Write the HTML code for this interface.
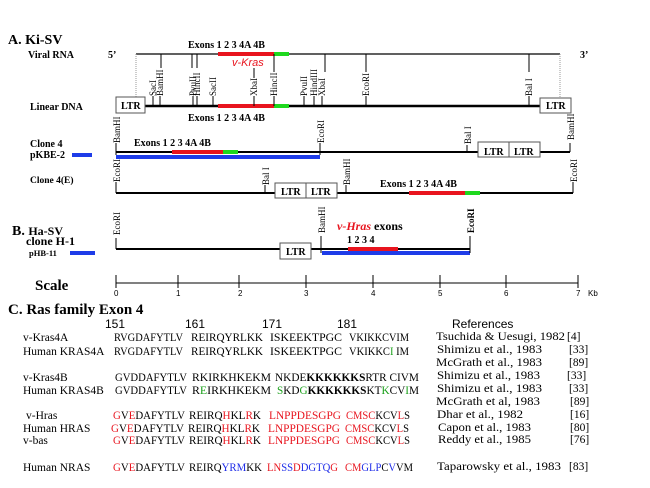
<!DOCTYPE html>
<html><head><meta charset="utf-8"><style>
html,body{margin:0;padding:0;background:#fff;}
svg{display:block;}
.b{font-family:"Liberation Serif",serif;font-weight:bold;}
.s{font-family:"Liberation Serif",serif;font-size:9px;}
.q{font-family:"Liberation Serif",serif;font-size:11.5px;}
.r{font-family:"Liberation Sans",sans-serif;font-size:12px;}
</style></head><body>
<svg width="650" height="488" viewBox="0 0 650 488" xmlns="http://www.w3.org/2000/svg">
<g class="b" font-size="10">
<text x="8" y="44" font-size="14">A. Ki-SV</text>
<text x="28" y="58">Viral RNA</text>
<text x="108" y="58">5’</text>
<text x="580" y="58">3’</text>
<text x="188" y="48">Exons 1  2  3  4A 4B</text>
<text x="30" y="110">Linear DNA</text>
<text x="188" y="121">Exons  1  2  3  4A 4B</text>
<text x="30" y="147">Clone 4</text>
<text x="30" y="158">pKBE-2</text>
<text x="134" y="146">Exons   1   2   3  4A 4B</text>
<text x="30" y="183" font-size="9.5">Clone 4(E)</text>
<text x="380" y="187">Exons 1  2  3  4A  4B</text>
<text x="12" y="235" font-size="14">B. <tspan font-size="12">Ha-SV</tspan></text>
<text x="26" y="245" font-size="12">clone H-1</text>
<text x="29" y="256" font-size="8.5">pHB-11</text>
<text x="337" y="230" font-size="12"><tspan fill="#e8141e" font-style="italic">v-Hras</tspan> exons</text>
<text x="347" y="243">1  2  3  4</text>
<text x="35" y="290" font-size="15">Scale</text>
<text x="8" y="314" font-size="15">C. Ras family Exon 4</text>
</g>
<text x="232" y="66" font-family="Liberation Sans,sans-serif" font-size="11" font-style="italic" fill="#e8141e">v-Kras</text>

<!-- Viral RNA -->
<line x1="136" y1="54" x2="560" y2="54" stroke="#000" stroke-width="1.2"/>
<line x1="218" y1="54" x2="274" y2="54" stroke="#e8141e" stroke-width="4"/>
<line x1="274" y1="54" x2="289" y2="54" stroke="#1ed81e" stroke-width="4"/>
<g stroke="#000" stroke-width="1">
<line x1="161" y1="54" x2="161" y2="68"/><line x1="192" y1="54" x2="192" y2="68"/><line x1="197" y1="54" x2="197" y2="68"/>
<line x1="274" y1="54" x2="274" y2="72"/><line x1="325" y1="54" x2="325" y2="72"/><line x1="366" y1="54" x2="366" y2="72"/><line x1="529" y1="54" x2="529" y2="72"/>
<line x1="254" y1="68" x2="254" y2="78"/>
</g>
<line x1="136" y1="54" x2="136" y2="97" stroke="#999" stroke-dasharray="1,1"/>
<line x1="560" y1="54" x2="560" y2="97" stroke="#999" stroke-dasharray="1,1"/>

<!-- Linear DNA -->
<line x1="145" y1="106" x2="540" y2="106" stroke="#000" stroke-width="2.5"/>
<line x1="218" y1="106" x2="274" y2="106" stroke="#e8141e" stroke-width="4"/>
<line x1="274" y1="106" x2="289" y2="106" stroke="#1ed81e" stroke-width="4"/>
<rect x="116" y="97" width="29" height="16" fill="#fff" stroke="#555"/>
<text x="121" y="109" class="b" font-size="10">LTR</text>
<rect x="540" y="98" width="31" height="15" fill="#fff" stroke="#555"/>
<text x="546" y="109" class="b" font-size="10">LTR</text>
<g stroke="#000" stroke-width="1">
<line x1="153" y1="96" x2="153" y2="106"/><line x1="160" y1="96" x2="160" y2="106"/><line x1="193" y1="96" x2="193" y2="106"/><line x1="197" y1="96" x2="197" y2="106"/><line x1="213" y1="96" x2="213" y2="106"/><line x1="254" y1="96" x2="254" y2="106"/><line x1="274" y1="96" x2="274" y2="106"/><line x1="304" y1="96" x2="304" y2="106"/><line x1="314" y1="96" x2="314" y2="106"/><line x1="322" y1="96" x2="322" y2="106"/><line x1="366" y1="96" x2="366" y2="106"/><line x1="529" y1="96" x2="529" y2="106"/>
</g>
<g class="s">
<text transform="translate(156,96) rotate(-90)">SacI</text>
<text transform="translate(163,96) rotate(-90)">BamHI</text>
<text transform="translate(196,96) rotate(-90)">PvuII</text>
<text transform="translate(200,96) rotate(-90)">HincII</text>
<text transform="translate(216,96) rotate(-90)">SacII</text>
<text transform="translate(257,96) rotate(-90)">XbaI</text>
<text transform="translate(277,96) rotate(-90)">HincII</text>
<text transform="translate(307,96) rotate(-90)">PvuII</text>
<text transform="translate(317,96) rotate(-90)">HindIII</text>
<text transform="translate(325,96) rotate(-90)">XbaI</text>
<text transform="translate(369,96) rotate(-90)">EcoRI</text>
<text transform="translate(532,96) rotate(-90)">Bal I</text>
</g>

<!-- Clone 4 -->
<line x1="116" y1="152" x2="478" y2="152" stroke="#000" stroke-width="2"/>
<line x1="540" y1="152" x2="570" y2="152" stroke="#000" stroke-width="2"/>
<line x1="172" y1="152" x2="223" y2="152" stroke="#e8141e" stroke-width="4"/>
<line x1="223" y1="152" x2="238" y2="152" stroke="#1ed81e" stroke-width="4"/>
<line x1="116" y1="157" x2="320" y2="157" stroke="#1e3ce8" stroke-width="4"/>
<line x1="72" y1="155" x2="92" y2="155" stroke="#1e3ce8" stroke-width="4"/>
<rect x="478" y="142" width="31" height="15" fill="#fff" stroke="#555"/>
<rect x="509" y="142" width="31" height="15" fill="#fff" stroke="#555"/>
<text x="484" y="155" class="b" font-size="10">LTR</text><text x="514" y="155" class="b" font-size="10">LTR</text>
<g stroke="#000"><line x1="116" y1="143" x2="116" y2="155"/><line x1="320" y1="143" x2="320" y2="155"/><line x1="467" y1="145" x2="467" y2="152"/><line x1="570" y1="143" x2="570" y2="152"/></g>
<g class="s">
<text transform="translate(120,143) rotate(-90)">BamHI</text>
<text transform="translate(324,143) rotate(-90)">EcoRI</text>
<text transform="translate(471,144) rotate(-90)">Bal I</text>
<text transform="translate(574,140) rotate(-90)">BamHI</text>
</g>

<!-- Clone 4(E) -->
<line x1="116" y1="193" x2="275" y2="193" stroke="#000" stroke-width="2"/>
<line x1="337" y1="193" x2="573" y2="193" stroke="#000" stroke-width="2"/>
<line x1="409" y1="193" x2="465" y2="193" stroke="#e8141e" stroke-width="4"/>
<line x1="465" y1="193" x2="480" y2="193" stroke="#1ed81e" stroke-width="4"/>
<rect x="275" y="183" width="31" height="15" fill="#fff" stroke="#555"/>
<rect x="306" y="183" width="31" height="15" fill="#fff" stroke="#555"/>
<text x="281" y="195" class="b" font-size="10">LTR</text><text x="311" y="195" class="b" font-size="10">LTR</text>
<g stroke="#000"><line x1="116" y1="182" x2="116" y2="193"/><line x1="265" y1="185" x2="265" y2="193"/><line x1="346" y1="185" x2="346" y2="193"/><line x1="573" y1="182" x2="573" y2="193"/></g>
<g class="s">
<text transform="translate(120,182) rotate(-90)">EcoRI</text>
<text transform="translate(269,185) rotate(-90)">Bal I</text>
<text transform="translate(350,185) rotate(-90)">BamHI</text>
<text transform="translate(577,182) rotate(-90)">EcoRI</text>
</g>

<!-- B -->
<line x1="116" y1="249" x2="280" y2="249" stroke="#000" stroke-width="2"/>
<line x1="311" y1="249" x2="470" y2="249" stroke="#000" stroke-width="2"/>
<line x1="348" y1="249" x2="398" y2="249" stroke="#e8141e" stroke-width="4"/>
<line x1="322" y1="253" x2="470" y2="253" stroke="#1e3ce8" stroke-width="4"/>
<line x1="70" y1="253" x2="95" y2="253" stroke="#1e3ce8" stroke-width="4"/>
<rect x="280" y="243" width="31" height="16" fill="#fff" stroke="#555"/>
<text x="286" y="255" class="b" font-size="10">LTR</text>
<g stroke="#000"><line x1="116" y1="238" x2="116" y2="249"/><line x1="321" y1="236" x2="321" y2="253"/><line x1="470" y1="236" x2="470" y2="253"/></g>
<g class="s">
<text transform="translate(120,235) rotate(-90)">EcoRI</text>
<text transform="translate(325,233) rotate(-90)">BamHI</text>
<text transform="translate(474,233) rotate(-90)" font-weight="bold">EcoRI</text>
</g>

<!-- Scale -->
<g stroke="#000" stroke-width="1">
<line x1="116" y1="283" x2="578" y2="283"/>
<line x1="116" y1="275" x2="116" y2="288"/><line x1="178" y1="275" x2="178" y2="288"/><line x1="239" y1="275" x2="239" y2="288"/><line x1="306" y1="275" x2="306" y2="288"/><line x1="373" y1="275" x2="373" y2="288"/><line x1="440" y1="275" x2="440" y2="288"/><line x1="506" y1="275" x2="506" y2="288"/><line x1="578" y1="275" x2="578" y2="288"/>
</g>
<g font-family="Liberation Sans,sans-serif" font-size="8">
<text x="114" y="296">0</text><text x="176" y="296">1</text><text x="238" y="296">2</text><text x="304" y="296">3</text><text x="371" y="296">4</text><text x="438" y="296">5</text><text x="504" y="296">6</text><text x="576" y="296">7</text><text x="588" y="296">Kb</text>
</g>

<!-- C -->
<g class="r">
<text x="105" y="328">151</text><text x="185" y="328">161</text><text x="262" y="328">171</text><text x="337" y="328">181</text>
<text x="452" y="328">References</text>
</g>
<g class="q" lengthAdjust="spacingAndGlyphs">
<text x="23" y="341">v-Kras4A</text>
<text x="23" y="355">Human KRAS4A</text>
<text x="23" y="381">v-Kras4B</text>
<text x="23" y="394">Human KRAS4B</text>
<text x="26" y="419">v-Hras</text>
<text x="23" y="432">Human HRAS</text>
<text x="23" y="444">v-bas</text>
<text x="23" y="471">Human NRAS</text>

<text x="114" y="341" textLength="69" lengthAdjust="spacingAndGlyphs">RVGDAFYTLV</text><text x="191" y="341" textLength="72" lengthAdjust="spacingAndGlyphs">REIRQYRLKK</text><text x="270" y="341" textLength="72" lengthAdjust="spacingAndGlyphs">ISKEEKTPGC</text><text x="349" y="341" textLength="60" lengthAdjust="spacingAndGlyphs">VKIKKCVIM</text>
<text x="114" y="355" textLength="69" lengthAdjust="spacingAndGlyphs">RVGDAFYTLV</text><text x="191" y="355" textLength="72" lengthAdjust="spacingAndGlyphs">REIRQYRLKK</text><text x="270" y="355" textLength="72" lengthAdjust="spacingAndGlyphs">ISKEEKTPGC</text><text x="349" y="355" textLength="60" lengthAdjust="spacingAndGlyphs">VKIKKC<tspan fill="#1aa01a">I</tspan> IM</text>

<text x="115" y="381" textLength="72" lengthAdjust="spacingAndGlyphs">GVDDAFYTLV</text><text x="192" y="381" textLength="79" lengthAdjust="spacingAndGlyphs">RKIRKHKEKM</text><text x="275" y="381" textLength="144" lengthAdjust="spacingAndGlyphs">NKDE<tspan font-weight="bold">KKKKKKS</tspan>RTR CIVM</text>
<text x="115" y="394" textLength="72" lengthAdjust="spacingAndGlyphs">GVDDAFYTLV</text><text x="192" y="394" textLength="79" lengthAdjust="spacingAndGlyphs">R<tspan fill="#1aa01a">E</tspan>IRKHKEKM</text><text x="277" y="394" textLength="142" lengthAdjust="spacingAndGlyphs"><tspan fill="#1aa01a">S</tspan>KD<tspan fill="#1aa01a">G</tspan><tspan font-weight="bold">KKKKKKS</tspan>KT<tspan fill="#1aa01a">K</tspan>CV<tspan fill="#1aa01a">I</tspan>M</text>

<text x="113" y="419" textLength="72" lengthAdjust="spacingAndGlyphs"><tspan fill="#e8141e">G</tspan>V<tspan fill="#e8141e">E</tspan>DAFYTLV</text><text x="189" y="419" textLength="72" lengthAdjust="spacingAndGlyphs">REIRQ<tspan fill="#e8141e">H</tspan>KL<tspan fill="#e8141e">R</tspan>K</text><text x="269" y="419" textLength="72" lengthAdjust="spacingAndGlyphs" fill="#e8141e">LNPPDESGPG</text><text x="346" y="419" textLength="64" lengthAdjust="spacingAndGlyphs"><tspan fill="#e8141e">CMSC</tspan>KCV<tspan fill="#e8141e">L</tspan>S</text>
<text x="111" y="432" textLength="73" lengthAdjust="spacingAndGlyphs"><tspan fill="#e8141e">G</tspan>V<tspan fill="#e8141e">E</tspan>DAFYTLV</text><text x="188" y="432" textLength="72" lengthAdjust="spacingAndGlyphs">REIRQ<tspan fill="#e8141e">H</tspan>KL<tspan fill="#e8141e">R</tspan>K</text><text x="268" y="432" textLength="72" lengthAdjust="spacingAndGlyphs" fill="#e8141e">LNPPDESGPG</text><text x="345" y="432" textLength="64" lengthAdjust="spacingAndGlyphs"><tspan fill="#e8141e">CMSC</tspan>KCV<tspan fill="#e8141e">L</tspan>S</text>
<text x="113" y="444" textLength="72" lengthAdjust="spacingAndGlyphs"><tspan fill="#e8141e">G</tspan>V<tspan fill="#e8141e">E</tspan>DAFYTLV</text><text x="189" y="444" textLength="72" lengthAdjust="spacingAndGlyphs">REIRQ<tspan fill="#e8141e">H</tspan>KL<tspan fill="#e8141e">R</tspan>K</text><text x="268" y="444" textLength="72" lengthAdjust="spacingAndGlyphs" fill="#e8141e">LNPPDESGPG</text><text x="346" y="444" textLength="64" lengthAdjust="spacingAndGlyphs"><tspan fill="#e8141e">CMSC</tspan>KCV<tspan fill="#e8141e">L</tspan>S</text>

<text x="113" y="471" textLength="72" lengthAdjust="spacingAndGlyphs"><tspan fill="#e8141e">G</tspan>V<tspan fill="#e8141e">E</tspan>DAFYTLV</text><text x="189" y="471" textLength="73" lengthAdjust="spacingAndGlyphs">REIRQ<tspan fill="#1e2ce8">YRM</tspan>KK</text><text x="267" y="471" textLength="71" lengthAdjust="spacingAndGlyphs"><tspan fill="#e8141e">LN</tspan><tspan fill="#1e2ce8">SS</tspan><tspan fill="#e8141e">D</tspan><tspan fill="#1e2ce8">DGTQ</tspan><tspan fill="#e8141e">G</tspan></text><text x="345" y="471" textLength="68" lengthAdjust="spacingAndGlyphs"><tspan fill="#e8141e">CM</tspan><tspan fill="#1e2ce8">GLP</tspan>C<tspan fill="#1e2ce8">V</tspan>VM</text>

<text x="436" y="340" textLength="129" lengthAdjust="spacingAndGlyphs">Tsuchida &amp; Uesugi, 1982</text><text x="567" y="340">[4]</text>
<text x="437" y="353" textLength="105" lengthAdjust="spacingAndGlyphs">Shimizu et al.,  1983</text><text x="569" y="353">[33]</text>
<text x="436" y="366" textLength="106" lengthAdjust="spacingAndGlyphs">McGrath et al., 1983</text><text x="569" y="366">[89]</text>
<text x="437" y="379" textLength="103" lengthAdjust="spacingAndGlyphs">Shimizu et al., 1983</text><text x="567" y="379">[33]</text>
<text x="437" y="392" textLength="105" lengthAdjust="spacingAndGlyphs">Shimizu et al.,  1983</text><text x="569" y="392">[33]</text>
<text x="436" y="405" textLength="104" lengthAdjust="spacingAndGlyphs">McGrath et al, 1983</text><text x="570" y="405">[89]</text>
<text x="437" y="418" textLength="86" lengthAdjust="spacingAndGlyphs">Dhar et al., 1982</text><text x="570" y="418">[16]</text>
<text x="438" y="431" textLength="93" lengthAdjust="spacingAndGlyphs">Capon et al., 1983</text><text x="570" y="431">[80]</text>
<text x="438" y="443" textLength="93" lengthAdjust="spacingAndGlyphs">Reddy et al., 1985</text><text x="570" y="443">[76]</text>
<text x="437" y="470" textLength="124" lengthAdjust="spacingAndGlyphs">Taparowsky et al., 1983</text><text x="569" y="470">[83]</text>
</g>
</svg>
</body></html>
